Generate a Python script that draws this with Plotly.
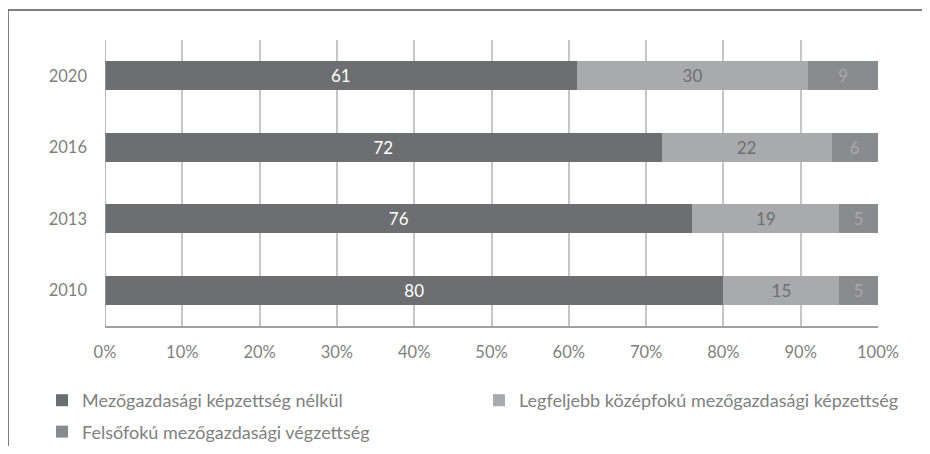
import plotly.graph_objects as go

years = ["2010", "2013", "2016", "2020"]
series_names = [
    "Mezőgazdasági képzettség nélkül",
    "Legfeljebb középfokú mezőgazdasági képzettség",
    "Felsőfokú mezőgazdasági végzettség",
]
no_training = [80, 76, 72, 61]
secondary = [15, 19, 22, 30]
higher = [5, 5, 6, 9]
x_ticks = [0, 10, 20, 30, 40, 50, 60, 70, 80, 90, 100]
x_tick_labels = [f"{v}%" for v in x_ticks]

colors = ["#6d6e71", "#a9aaad", "#8a8b8e"]
text_colors = ["#ffffff", "#6d6e71", "#a8a9ac"]
legend_ids = ["legend", "legend2", "legend"]
FONT = "Lato"

fig = go.Figure()
for i, (name, vals, c, tc, lg) in enumerate(
        zip(series_names, [no_training, secondary, higher], colors, text_colors, legend_ids)):
    fig.add_trace(go.Bar(
        y=years, x=vals, name=name, orientation="h",
        marker=dict(color=c, line=dict(width=0)),
        text=[str(v) for v in vals], textposition="inside",
        insidetextanchor="middle",
        textfont=dict(color=tc, size=17, family=FONT),
        hoverinfo="skip", legend=lg, legendgroup=f"g{i}",
    ))

# figure is placed with 8px page margin; coordinates below are figure pixels
W, H = 914, 438
L, R, T, B = 97, 44, 32, 120
pw, ph = W - L - R, H - T - B

def px_x(p):
    return (p - L) / pw

def px_y(p):
    return 1 - (p - T) / ph

legend_style = dict(
    orientation="v", xanchor="left", yanchor="top",
    font=dict(size=18, color="#7f7f7f"), traceorder="grouped",
    itemwidth=30, tracegroupgap=5, bgcolor="rgba(0,0,0,0)",
)

fig.update_layout(
    width=W, height=H,
    barmode="stack", bargap=0.6,
    margin=dict(l=L, r=R, t=T, b=B, autoexpand=False),
    paper_bgcolor="white", plot_bgcolor="white",
    font=dict(family=FONT, size=16, color="#7f7f7f"),
    xaxis=dict(
        range=[0, 100], tickvals=x_ticks, ticktext=x_tick_labels,
        showgrid=True, gridcolor="#c6c6c8", gridwidth=1.5,
        zeroline=False, showline=True, linecolor="#a0a0a0", linewidth=1.5,
        ticks="", ticklabelstandoff=10,
        tickfont=dict(size=16.5, color="#7f7f7f"), fixedrange=True,
    ),
    yaxis=dict(
        showgrid=False, zeroline=False, showline=False,
        ticks="", ticklabelstandoff=17,
        tickfont=dict(size=16.5, color="#7f7f7f"), fixedrange=True,
    ),
    legend=dict(x=px_x(34), y=px_y(374), **legend_style),
    legend2=dict(x=px_x(471), y=px_y(374), **legend_style),
    showlegend=True,
    shapes=[
        dict(type="line", xref="paper", yref="paper",
             x0=px_x(0), x1=px_x(0), y0=px_y(2), y1=px_y(460),
             line=dict(color="#555555", width=1.5)),
        dict(type="line", xref="paper", yref="paper",
             x0=px_x(0), x1=px_x(930), y0=px_y(2), y1=px_y(2),
             line=dict(color="#555555", width=1.5)),
        dict(type="line", xref="x", yref="paper",
             x0=0, x1=0, y0=0, y1=1,
             line=dict(color="#a0a0a0", width=1.5)),
    ],
)

fig.write_html("out.html")
